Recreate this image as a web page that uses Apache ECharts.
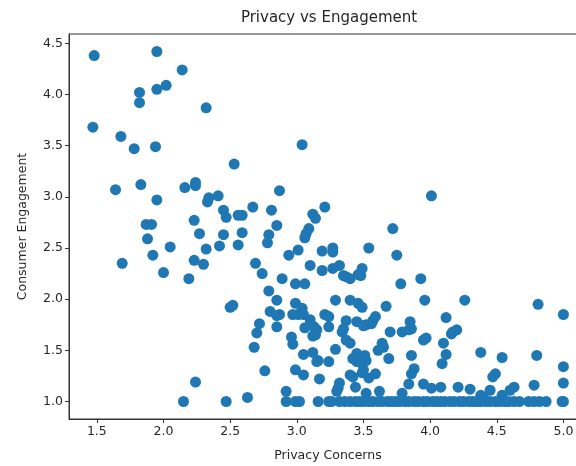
<!DOCTYPE html>
<html>
<head>
<meta charset="utf-8">
<script src="https://cdn.jsdelivr.net/npm/echarts@6/dist/echarts.min.js"></script>
<style>
  html, body { margin: 0; padding: 0; background: #fff; }
  #chart { width: 576px; height: 466px; }
</style>
</head>
<body>
<div id="chart"></div>
<script>
// Survey responses: privacy concern score vs consumer engagement score (paired by index)
const privacy = [
  1.48, 1.95, 2.14, 1.82, 1.82, 1.95, 2.02, 2.32, 1.47, 1.68, 1.78, 1.94, 3.04, 2.53, 1.64, 1.83,
  2.16, 2.24, 2.24, 1.95, 2.41, 2.34, 2.33, 2.87, 2.67, 2.81, 2.45, 2.47, 2.56, 2.59, 2.23, 2.85,
  3.12, 3.14, 3.09, 1.87, 1.91, 4.01, 3.21, 3.72, 3.06, 3.07, 1.88, 2.27, 2.45, 2.59, 2.79, 2.78,
  2.56, 2.42, 2.32, 2.05, 1.92, 1.69, 2.23, 2.30, 2.00, 2.19, 2.69, 2.74, 2.94, 3.01, 3.10, 3.19,
  3.27, 3.27, 3.19, 3.27, 3.32, 2.89, 2.99, 3.06, 2.79, 3.37, 3.40, 3.35, 3.46, 3.49, 3.54, 3.75,
  3.48, 3.78, 3.93,
  2.85, 2.99, 3.04, 2.50, 2.52, 2.80, 2.87, 2.85, 2.97, 3.01, 3.05, 3.10, 2.72, 2.70, 2.85, 3.06,
  3.12, 2.96, 2.97, 2.68, 3.05, 2.76, 2.99, 3.05, 2.24, 2.63, 2.92, 3.21, 3.24, 3.15, 3.14, 3.24,
  3.29, 3.40, 3.46, 3.49, 3.37, 3.45, 3.35, 3.34, 3.37, 3.40, 3.12, 3.16, 3.15, 3.24, 3.29, 3.45,
  3.42, 3.45, 3.49, 3.50, 3.17, 3.40, 3.42, 3.32, 3.31, 3.30, 3.44, 3.51, 3.67, 3.96, 4.26, 3.59,
  3.57, 3.52, 3.50, 3.70, 3.79, 3.85, 3.86, 3.84, 4.12, 3.95, 3.97, 4.17, 4.20, 4.16, 4.10, 3.64,
  3.65, 3.61, 3.52, 3.69, 3.86, 4.12, 4.09, 3.88, 3.86, 3.54, 3.59, 3.84, 3.95, 4.01, 4.08, 4.21,
  4.30, 3.62, 3.79, 4.81, 5.00, 4.38, 4.54, 4.80, 5.00, 5.00, 4.49, 4.47, 4.45, 4.63, 4.60, 4.78,
  4.38, 4.40, 3.13, 3.56, 3.49, 3.52, 4.54
];
const engagement = [
  4.38, 4.42, 4.24, 4.02, 3.92, 4.05, 4.09, 3.87, 3.68, 3.59, 3.47, 3.49, 3.51, 3.32, 3.07, 3.12,
  3.09, 3.14, 3.11, 2.97, 3.01, 2.99, 2.95, 3.06, 2.90, 2.87, 2.87, 2.80, 2.82, 2.82, 2.77, 2.72,
  2.83, 2.79, 2.69, 2.73, 2.73, 3.01, 2.90, 2.69, 2.60, 2.64, 2.59, 2.64, 2.63, 2.65, 2.63, 2.55,
  2.53, 2.52, 2.49, 2.51, 2.43, 2.35, 2.38, 2.34, 2.26, 2.20, 2.35, 2.25, 2.43, 2.48, 2.33, 2.47,
  2.50, 2.46, 2.28, 2.30, 2.33, 2.20, 2.15, 2.15, 2.08, 2.22, 2.20, 2.23, 2.24, 2.30, 2.50, 2.43,
  2.23, 2.15, 2.20,
  1.99, 1.96, 1.91, 1.92, 1.94, 1.88, 1.85, 1.84, 1.85, 1.85, 1.85, 1.80, 1.76, 1.67, 1.73, 1.72,
  1.64, 1.63, 1.56, 1.53, 1.46, 1.30, 1.31, 1.26, 1.19, 1.04, 1.10, 1.85, 1.83, 1.70, 1.65, 1.73,
  1.99, 1.99, 1.96, 1.92, 1.79, 1.78, 1.71, 1.68, 1.60, 1.57, 1.48, 1.40, 1.39, 1.39, 1.51, 1.47,
  1.42, 1.39, 1.37, 1.31, 1.22, 1.26, 1.24, 1.18, 1.13, 1.10, 1.14, 1.45, 1.93, 1.99, 1.99, 1.83,
  1.79, 1.75, 1.74, 1.68, 1.68, 1.78, 1.71, 1.70, 1.82, 1.60, 1.62, 1.68, 1.70, 1.66, 1.57, 1.57,
  1.53, 1.50, 1.40, 1.42, 1.45, 1.46, 1.37, 1.32, 1.27, 1.23, 1.27, 1.17, 1.17, 1.13, 1.14, 1.14,
  1.12, 1.10, 1.08, 1.95, 1.85, 1.48, 1.43, 1.45, 1.34, 1.18, 1.27, 1.24, 1.11, 1.14, 1.11, 1.16,
  1.06, 1.04, 1.73, 1.76, 1.28, 1.08, 1.06
];
// Respondents at the lowest engagement score (1.0)
const floorPrivacy = [
  2.15, 2.47, 2.92, 2.99, 3.02, 3.16, 3.24, 3.26, 3.32, 3.36, 3.40, 3.44, 3.47, 3.50, 3.54, 3.57,
  3.61, 3.64, 3.68, 3.71, 3.74, 3.77, 3.81, 3.84, 3.88, 3.91, 3.95, 3.98, 4.02, 4.05, 4.08, 4.11,
  4.15, 4.18, 4.22, 4.25, 4.29, 4.32, 4.35, 4.38, 4.42, 4.45, 4.49, 4.52, 4.56, 4.59, 4.63, 4.67,
  4.74, 4.78, 4.82, 4.87, 4.99, 5.00
];
const floorEngagement = 1.0;

const xTicks = [1.5, 2.0, 2.5, 3.0, 3.5, 4.0, 4.5, 5.0];
const yTicks = [1.0, 1.5, 2.0, 2.5, 3.0, 3.5, 4.0, 4.5];

const points = privacy.map((p, i) => [p, engagement[i]])
  .concat(floorPrivacy.map(p => [p, floorEngagement]));

const FONT = 'DejaVu Sans';
const INK = '#262626';

const chart = echarts.init(document.getElementById('chart'), null, { renderer: 'canvas' });
chart.setOption({
  animation: false,
  backgroundColor: '#ffffff',
  // Title centred over the plot area
  graphic: [{
    type: 'text',
    x: 329, y: 18,
    style: {
      text: 'Privacy vs Engagement',
      align: 'center', verticalAlign: 'middle',
      font: '15px "DejaVu Sans"', fill: INK
    }
  }],
  grid: {
    left: 69, top: 34, width: 518, height: 385,
    outerBoundsMode: 'none',
    containLabel: false,
    show: true, borderColor: '#333', borderWidth: 1, backgroundColor: 'transparent'
  },
  xAxis: {
    type: 'value',
    min: 1.291, max: 5.177,
    axisLine: { show: true, onZero: false, lineStyle: { color: '#333', width: 1 } },
    axisTick: { show: true, customValues: xTicks, length: 4, lineStyle: { color: '#333' } },
    axisLabel: {
      customValues: xTicks, formatter: v => v.toFixed(1),
      fontFamily: FONT, fontSize: 12.5, color: INK, margin: 6
    },
    splitLine: { show: false },
    name: 'Privacy Concerns',
    nameLocation: 'middle', nameGap: 30,
    nameTextStyle: { fontFamily: FONT, fontSize: 12.5, color: INK }
  },
  yAxis: {
    type: 'value',
    min: 0.829, max: 4.591,
    axisLine: { show: true, onZero: false, lineStyle: { color: '#333', width: 1 } },
    axisTick: { show: true, customValues: yTicks, length: 4, lineStyle: { color: '#333' } },
    axisLabel: {
      customValues: yTicks, formatter: v => v.toFixed(1),
      fontFamily: FONT, fontSize: 12.5, color: INK, margin: 6
    },
    splitLine: { show: false },
    name: 'Consumer Engagement',
    nameLocation: 'middle', nameGap: 40,
    nameTextStyle: { fontFamily: FONT, fontSize: 12.5, color: INK }
  },
  series: [{
    type: 'scatter',
    data: points,
    symbol: 'circle',
    symbolSize: 11,
    itemStyle: { color: '#1f77b4', opacity: 1 },
    emphasis: { disabled: true }
  }]
});
</script>
</body>
</html>
